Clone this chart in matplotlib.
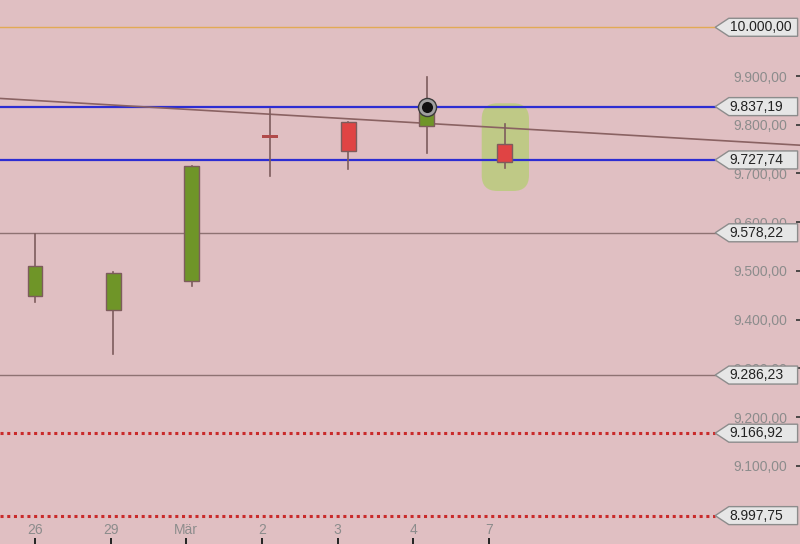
import numpy as np
import matplotlib
matplotlib.use("Agg")
import matplotlib.pyplot as plt
from matplotlib.patches import Rectangle, Polygon, FancyBboxPatch
from matplotlib.transforms import blended_transform_factory
from matplotlib.ticker import FuncFormatter

plt.rcParams['font.family'] = ['Liberation Sans', 'DejaVu Sans']

# daily candles
days	= ["26", "29", "Mär", "2", "3", "4", "7"]
opens	= [9449, 9420, 9480, 9777, 9806, 9797, 9760]
highs	= [9576, 9498, 9715, 9833, 9806, 9897, 9801]
lows	= [9436, 9330, 9470, 9695, 9709, 9743, 9711]
closes	= [9511, 9495, 9715, 9773, 9746, 9826, 9724]

# horizontal levels on the right side
levels		= [10000.00, 9837.19, 9727.74, 9578.22, 9286.23, 9166.92, 8997.75]
level_kinds	= ["orange", "blue", "blue", "grey", "grey", "red", "red"]

# falling trend line, two anchor points (x index, price)
trend_x	= [-0.45, 9.77]
trend_y	= [9854, 9758]

# signal marker: day index and price
mark_day	= 5
mark_price	= 9837.19

yticks	= [9100, 9200, 9300, 9400, 9500, 9600, 9700, 9800, 9900]

bg	= '#e0bfc2'
up_col	= '#6f9528'
dn_col	= '#e04444'
edge	= '#7d5c5c'

def de_fmt(v):
	return f"{v:,.2f}".replace(",", "X").replace(".", ",").replace("X", ".")

fig = plt.figure(figsize=(8, 5.44), dpi=100)
fig.patch.set_facecolor(bg)
ax = fig.add_axes([0, 0, 1, 1])
ax.set_facecolor(bg)
for s in ax.spines.values():
	s.set_visible(False)

ax.set_xlim(-0.447, 9.77)
ax.set_ylim(8939.5, 10056)

# level lines end where the price tag begins
styles = {
	"orange":	dict(color='#e2aa55', lw=1.0, ls='-'),
	"blue":		dict(color='#2d2dd2', lw=1.6, ls='-'),
	"grey":		dict(color='#8e7272', lw=1.0, ls='-'),
	"red":		dict(color='#c92a2a', lw=2.2, ls=(0, (1, 1.2))),
}
for v, k in zip(levels, level_kinds):
	ax.axhline(v, xmin=0, xmax=0.894, zorder=2, **styles[k])

ax.plot(trend_x, trend_y, color='#8a6262', lw=1.2, zorder=3)

# highlight around the last candle
px_x = 78.3	# pixels per day
px_y = 0.4875	# pixels per point
hl = FancyBboxPatch((5.705, 9664), 0.604, 180,
		boxstyle="round,pad=0,rounding_size=0.2",
		mutation_aspect=px_x / px_y,
		facecolor='#bccb80', edgecolor='none', alpha=0.9, zorder=1.5)
ax.add_patch(hl)

# candles
w = 0.19
for i, (o, h, l, c) in enumerate(zip(opens, highs, lows, closes)):
	ax.plot([i, i], [l, h], color=edge, lw=1.2, zorder=4)
	if abs(c - o) < 6:
		ax.add_patch(Rectangle((i - 0.105, min(o, c)), 0.21, 6,
			facecolor='#b04a4a', edgecolor='none', zorder=5))
		continue
	col = up_col if c > o else dn_col
	ax.add_patch(Rectangle((i - w / 2, min(o, c)), w, abs(c - o),
		facecolor=col, edgecolor=edge, lw=1.0, zorder=5))

# marker on day "4"
ax.plot([mark_day], [mark_price], marker='o', ms=13, mfc='#3a3a3a', mec='#3a3a3a', zorder=6)
ax.plot([mark_day], [mark_price], marker='o', ms=10, mfc='#111111', mec='#a0a0a0', mew=2, zorder=7)

# y axis: labels inside on the right
ax.set_yticks(yticks)
ax.yaxis.set_major_formatter(FuncFormatter(lambda v, p: de_fmt(v)))
ax.tick_params(axis='y', left=False, labelleft=False, right=True, labelright=True,
	direction='in', length=3, width=1.2, color='#333333', pad=-9,
	labelsize=10, labelcolor='#8c8c8c')
for t in ax.get_yticklabels():
	t.set_horizontalalignment('right')

# x axis: labels inside at the bottom
ax.set_xticks(np.arange(len(days)) * 0.966)
ax.set_xticklabels(days)
ax.tick_params(axis='x', direction='in', length=4, width=1.4, color='#222222',
	pad=-15, labelsize=10, labelcolor='#8c8c8c')

# price tags
tr = blended_transform_factory(ax.transAxes, ax.transData)
hh = 9 / px_y
for v in levels:
	poly = Polygon([(0.894, v), (0.911, v + hh), (0.997, v + hh), (0.997, v - hh), (0.911, v - hh)],
		closed=True, transform=tr, facecolor='#e6e6e6', edgecolor='#8c8c8c', lw=1.0, zorder=10)
	ax.add_patch(poly)
	ax.text(0.912, v, de_fmt(v), transform=tr, ha='left', va='center', fontsize=10,
		color='#222222', zorder=11)

fig.savefig("out.png", dpi=100, facecolor=bg)
